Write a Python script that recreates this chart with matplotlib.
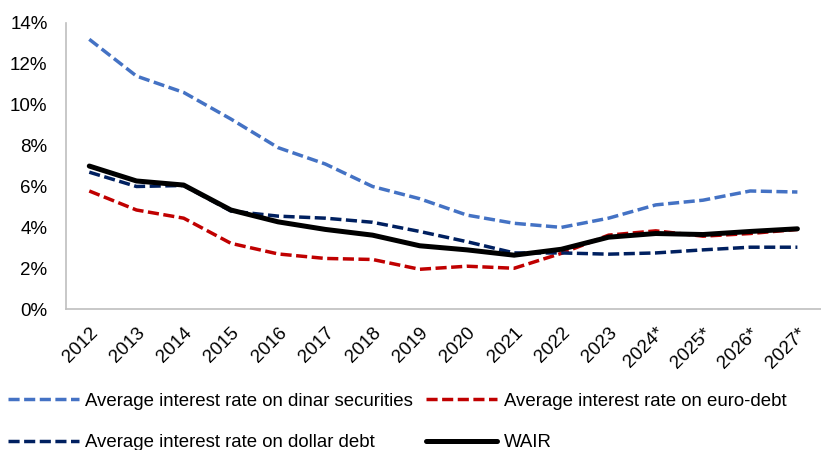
import matplotlib
matplotlib.use("Agg")
import matplotlib.pyplot as plt
from matplotlib.ticker import FuncFormatter

plt.rcParams['font.family'] = ['Liberation Sans', 'DejaVu Sans']

years = ['2012', '2013', '2014', '2015', '2016', '2017', '2018', '2019',
         '2020', '2021', '2022', '2023', '2024*', '2025*', '2026*', '2027*']

dinar = [13.2, 11.4, 10.6, 9.3, 7.9, 7.1, 6.0, 5.4,
         4.6, 4.2, 4.0, 4.45, 5.1, 5.33, 5.78, 5.73]
euro = [5.78, 4.85, 4.45, 3.22, 2.7, 2.48, 2.43, 1.95,
        2.1, 2.0, 2.73, 3.62, 3.83, 3.57, 3.7, 3.9]
dollar = [6.7, 6.0, 6.05, 4.8, 4.55, 4.45, 4.25, 3.8,
          3.3, 2.75, 2.75, 2.69, 2.75, 2.9, 3.03, 3.03]
wair = [7.0, 6.27, 6.07, 4.85, 4.27, 3.9, 3.62, 3.1,
        2.9, 2.64, 2.93, 3.52, 3.7, 3.65, 3.8, 3.93]

fig = plt.figure(figsize=(8.21, 4.5), dpi=100)
ax = fig.add_axes([0.080, 0.313, 0.920, 0.636])

x = range(len(years))
dash = (0, (3.2, 1.3))
l_dinar, = ax.plot(x, dinar, color='#4472C4', lw=2.5, ls=dash,
                   label='Average interest rate on dinar securities')
l_euro, = ax.plot(x, euro, color='#C00000', lw=2.5, ls=dash,
                  label='Average interest rate on euro-debt')
l_dollar, = ax.plot(x, dollar, color='#002060', lw=2.5, ls=dash,
                    label='Average interest rate on dollar debt')
l_wair, = ax.plot(x, wair, color='black', lw=3.6, solid_capstyle='round', label='WAIR')

ax.set_xlim(-0.5, len(years) - 0.5)
ax.set_ylim(0, 14)
ax.set_yticks(range(0, 15, 2))
ax.yaxis.set_major_formatter(FuncFormatter(lambda v, p: f'{v:.0f}%'))
ax.set_xticks(list(x))
ax.set_xticklabels(years, rotation=45, ha='right', va='top', rotation_mode='anchor')

for s in ['top', 'right']:
    ax.spines[s].set_visible(False)
for s in ['left', 'bottom']:
    ax.spines[s].set_color('#BFBFBF')
    ax.spines[s].set_linewidth(1.2)
ax.tick_params(axis='both', length=0, labelsize=13.5, colors='black')
ax.tick_params(axis='y', pad=13)
ax.tick_params(axis='x', pad=11)

# two columns, filled column-wise: dinar/dollar on the left, euro/WAIR on the right
handles = [l_dinar, l_dollar, l_euro, l_wair]
fig.legend(handles=handles, labels=[h.get_label() for h in handles],
           loc='upper left', bbox_to_anchor=(0.01, 0.127), ncol=2, frameon=False,
           fontsize=13.4, handlelength=3.8, handletextpad=0.35,
           columnspacing=0.7, labelspacing=1.3, borderpad=0, borderaxespad=0)

fig.savefig('out.png', dpi=100)
